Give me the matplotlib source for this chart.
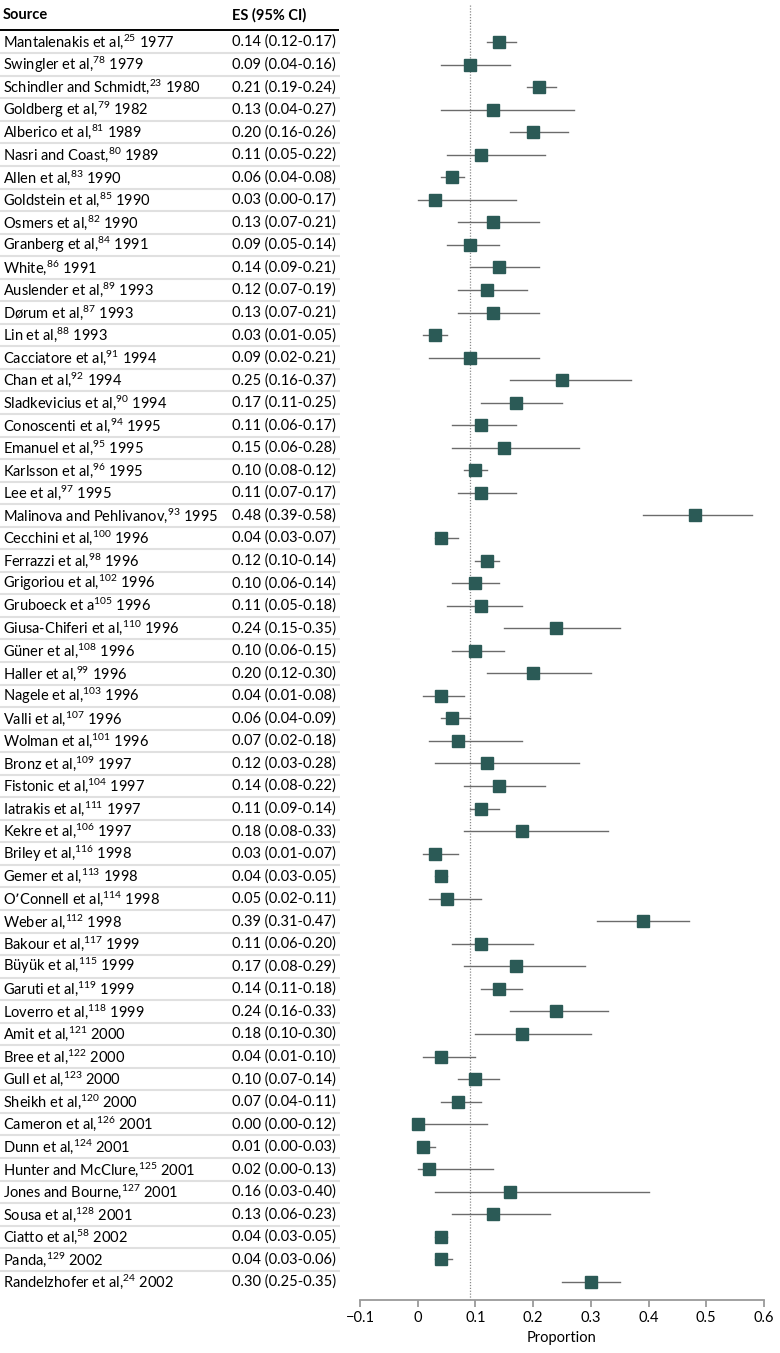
import matplotlib
matplotlib.use("Agg")
import matplotlib.pyplot as plt

sources = [
    ("Mantalenakis et al,", "25", "1977"),
    ("Swingler et al,", "78", "1979"),
    ("Schindler and Schmidt,", "23", "1980"),
    ("Goldberg et al,", "79", "1982"),
    ("Alberico et al,", "81", "1989"),
    ("Nasri and Coast,", "80", "1989"),
    ("Allen et al,", "83", "1990"),
    ("Goldstein et al,", "85", "1990"),
    ("Osmers et al,", "82", "1990"),
    ("Granberg et al,", "84", "1991"),
    ("White,", "86", "1991"),
    ("Auslender et al,", "89", "1993"),
    ("Dørum et al,", "87", "1993"),
    ("Lin et al,", "88", "1993"),
    ("Cacciatore et al,", "91", "1994"),
    ("Chan et al,", "92", "1994"),
    ("Sladkevicius et al,", "90", "1994"),
    ("Conoscenti et al,", "94", "1995"),
    ("Emanuel et al,", "95", "1995"),
    ("Karlsson et al,", "96", "1995"),
    ("Lee et al,", "97", "1995"),
    ("Malinova and Pehlivanov,", "93", "1995"),
    ("Cecchini et al,", "100", "1996"),
    ("Ferrazzi et al,", "98", "1996"),
    ("Grigoriou et al,", "102", "1996"),
    ("Gruboeck et a", "105", "1996"),
    ("Giusa-Chiferi et al,", "110", "1996"),
    ("Güner et al,", "108", "1996"),
    ("Haller et al,", "99", "1996"),
    ("Nagele et al,", "103", "1996"),
    ("Valli et al,", "107", "1996"),
    ("Wolman et al,", "101", "1996"),
    ("Bronz et al,", "109", "1997"),
    ("Fistonic et al,", "104", "1997"),
    ("Iatrakis et al,", "111", "1997"),
    ("Kekre et al,", "106", "1997"),
    ("Briley et al,", "116", "1998"),
    ("Gemer et al,", "113", "1998"),
    ("O\u2019Connell et al,", "114", "1998"),
    ("Weber al,", "112", "1998"),
    ("Bakour et al,", "117", "1999"),
    ("Büyük et al,", "115", "1999"),
    ("Garuti et al,", "119", "1999"),
    ("Loverro et al,", "118", "1999"),
    ("Amit et al,", "121", "2000"),
    ("Bree et al,", "122", "2000"),
    ("Gull et al,", "123", "2000"),
    ("Sheikh et al,", "120", "2000"),
    ("Cameron et al,", "126", "2001"),
    ("Dunn et al,", "124", "2001"),
    ("Hunter and McClure,", "125", "2001"),
    ("Jones and Bourne,", "127", "2001"),
    ("Sousa et al,", "128", "2001"),
    ("Ciatto et al,", "58", "2002"),
    ("Panda,", "129", "2002"),
    ("Randelzhofer et al,", "24", "2002"),
]

es = [0.14, 0.09, 0.21, 0.13, 0.20, 0.11, 0.06, 0.03, 0.13, 0.09,
      0.14, 0.12, 0.13, 0.03, 0.09, 0.25, 0.17, 0.11, 0.15, 0.10,
      0.11, 0.48, 0.04, 0.12, 0.10, 0.11, 0.24, 0.10, 0.20, 0.04,
      0.06, 0.07, 0.12, 0.14, 0.11, 0.18, 0.03, 0.04, 0.05, 0.39,
      0.11, 0.17, 0.14, 0.24, 0.18, 0.04, 0.10, 0.07, 0.00, 0.01,
      0.02, 0.16, 0.13, 0.04, 0.04, 0.30]
lo = [0.12, 0.04, 0.19, 0.04, 0.16, 0.05, 0.04, 0.00, 0.07, 0.05,
      0.09, 0.07, 0.07, 0.01, 0.02, 0.16, 0.11, 0.06, 0.06, 0.08,
      0.07, 0.39, 0.03, 0.10, 0.06, 0.05, 0.15, 0.06, 0.12, 0.01,
      0.04, 0.02, 0.03, 0.08, 0.09, 0.08, 0.01, 0.03, 0.02, 0.31,
      0.06, 0.08, 0.11, 0.16, 0.10, 0.01, 0.07, 0.04, 0.00, 0.00,
      0.00, 0.03, 0.06, 0.03, 0.03, 0.25]
hi = [0.17, 0.16, 0.24, 0.27, 0.26, 0.22, 0.08, 0.17, 0.21, 0.14,
      0.21, 0.19, 0.21, 0.05, 0.21, 0.37, 0.25, 0.17, 0.28, 0.12,
      0.17, 0.58, 0.07, 0.14, 0.14, 0.18, 0.35, 0.15, 0.30, 0.08,
      0.09, 0.18, 0.28, 0.22, 0.14, 0.33, 0.07, 0.05, 0.11, 0.47,
      0.20, 0.29, 0.18, 0.33, 0.30, 0.10, 0.14, 0.11, 0.12, 0.03,
      0.13, 0.40, 0.23, 0.05, 0.06, 0.35]
pooled = 0.09
xticks = [-0.1, 0, 0.1, 0.2, 0.3, 0.4, 0.5, 0.6]
xticklabels = ["\u22120.1", "0", "0.1", "0.2", "0.3", "0.4", "0.5", "0.6"]

fs = 10.5
plt.rcParams["font.family"] = ["Lato", "DejaVu Sans"]
plt.rcParams["mathtext.default"] = "regular"
plt.rcParams["font.size"] = fs

W, H = 780, 1353
fig = plt.figure(figsize=(W / 100, H / 100), dpi=100)

row0, step = 42, 22.545
y_top_px, y_bot_px = 5, 1300
ymax = (y_bot_px - row0) / step
ymin = (y_top_px - row0) / step
bottom = 1 - y_bot_px / H
height = (y_bot_px - y_top_px) / H

ax = fig.add_axes([360 / W, bottom, 404 / W, height])
tab = fig.add_axes([0, bottom, 340 / W, height], sharey=ax)
tab.set_xlim(0, 340)
tab.axis("off")

n = len(es)
ys = list(range(n))
ax.set_ylim(ymax, ymin)
ax.set_xlim(-0.1, 0.6)

teal = "#2b5a56"
for y, e, l, h in zip(ys, es, lo, hi):
    ax.plot([l, h], [y, y], color="#6b6b6b", lw=1.0, zorder=2)
ax.plot(es, ys, "s", color=teal, markersize=9, zorder=3, lw=0)
ax.axvline(pooled, color="#8a8a8a", lw=0.9, ls=(0, (1, 1.3)), zorder=1)

for s in ["top", "right", "left"]:
    ax.spines[s].set_visible(False)
ax.spines["bottom"].set_color("#9a9a9a")
ax.spines["bottom"].set_linewidth(1.3)
ax.set_yticks([])
ax.set_xticks(xticks)
ax.set_xticklabels(xticklabels, fontsize=fs)
ax.tick_params(axis="x", color="#9a9a9a", width=1.3, length=5, pad=3)
ax.set_xlabel("Proportion", fontsize=fs, labelpad=4)

# table
hdr_y = (15 - row0) / step
tab.text(3, hdr_y, "Source", fontweight="bold", va="center", ha="left")
tab.text(232, hdr_y, "ES (95% CI)", fontweight="bold", va="center", ha="left")
tab.plot([0, 339], [(30 - row0) / step] * 2, color="black", lw=1.4, solid_capstyle="butt")
for y, (name, ref, yr), e, l, h in zip(ys, sources, es, lo, hi):
    tab.text(3, y, f"{name}$^{{{ref}}}$ {yr}", va="center", ha="left")
    tab.text(232, y, f"{e:.2f} ({l:.2f}-{h:.2f})", va="center", ha="left")
    if y < n - 1:
        tab.plot([0, 339], [y + 0.5, y + 0.5], color="#e0e0e0", lw=1.5)

fig.savefig("out.png", dpi=100)
